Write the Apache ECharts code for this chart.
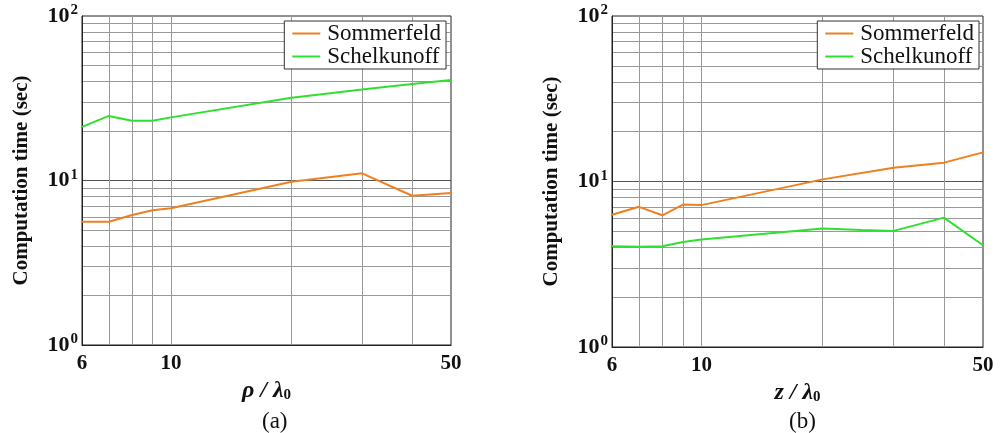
<!DOCTYPE html>
<html>
<head>
<meta charset="utf-8">
<script src="https://cdn.jsdelivr.net/npm/echarts@6/dist/echarts.min.js"></script>
<style>
    html, body { margin: 0; padding: 0; background: #fff; }
    #chart { width: 1007px; height: 433px; }
</style>
</head>
<body>
<div id="chart"></div>
<script>
    // panel (a): rho / lambda0
    const rhoA = [6, 7, 8, 9, 10, 20, 30, 40, 50];
    const sommerfeldA = [5.62, 5.62, 6.17, 6.6, 6.78, 9.84, 11.06, 8.08, 8.4];
    const schelkunoffA = [21.2, 24.7, 23.1, 23.1, 24.2, 31.8, 35.8, 38.6, 40.8];

    // panel (b): z / lambda0
    const zB = [6, 7, 8, 9, 10, 20, 30, 40, 50];
    const sommerfeldB = [6.3, 7.03, 6.25, 7.26, 7.2, 10.3, 12.1, 13.0, 15.0];
    const zB2 = [6, 7, 8, 9, 10, 20, 25, 30, 40, 50];
    const schelkunoffB = [4.06, 4.03, 4.06, 4.31, 4.46, 5.2, 5.1, 5.03, 6.05, 4.12];

    const xLabels = [6, 10, 50];
    const xGridLines = [7, 8, 9, 10, 20, 30, 40];
    const yLabels = [1, 10, 100];
    const yGridLines = [2, 3, 4, 5, 6, 7, 8, 9, 10, 20, 30, 40, 50, 60, 70, 80, 90];

    const serif = 'Liberation Serif, DejaVu Serif, serif';
    const orange = '#ef7f1f';
    const green = '#2fe02f';

    function pairs(xs, ys) {
        return xs.map((x, i) => [x, ys[i]]);
    }

    // y=10 line a bit darker than the rest
    const yGridColors = yGridLines.map(v => v === 10 ? '#555' : '#999');

    function makeX(idx, nameRich) {
        return {
            gridIndex: idx,
            type: 'log',
            logBase: 10,
            min: 6,
            max: 50,
            name: nameRich,
            nameLocation: 'middle',
            nameGap: 33,
            nameTextStyle: {
                rich: {
                    v: { fontFamily: serif, fontStyle: 'italic', fontWeight: 'bold', fontSize: 24, color: '#111' },
                    s: { fontFamily: serif, fontWeight: 'bold', fontSize: 15, color: '#111', padding: [9, 0, 0, 0] }
                }
            },
            axisLine: { show: true, lineStyle: { color: '#222', width: 1 } },
            axisTick: { show: false, customValues: xGridLines },
            axisLabel: {
                customValues: xLabels,
                margin: 8,
                fontFamily: serif,
                fontWeight: 'bold',
                fontSize: 21,
                color: '#111',
                formatter: v => String(Math.round(v))
            },
            splitLine: { show: true, lineStyle: { color: '#999', width: 1 } }
        };
    }

    function makeY(idx) {
        return {
            gridIndex: idx,
            type: 'log',
            logBase: 10,
            min: 1,
            max: 100,
            name: 'Computation time (sec)',
            nameLocation: 'middle',
            nameGap: 50,
            nameTextStyle: { fontFamily: serif, fontWeight: 'bold', fontSize: 21, color: '#111' },
            axisLine: { show: true, lineStyle: { color: '#222', width: 1 } },
            axisTick: { show: false, customValues: yGridLines },
            axisLabel: {
                customValues: yLabels,
                margin: 4,
                formatter: v => '{b|10}{s|' + Math.round(Math.log10(v)) + '}',
                rich: {
                    b: { fontFamily: serif, fontWeight: 'bold', fontSize: 22, color: '#111' },
                    s: { fontFamily: serif, fontWeight: 'bold', fontSize: 15, color: '#111', padding: [0, 0, 11, 1] }
                }
            },
            splitLine: { show: true, lineStyle: { color: yGridColors, width: 1 } }
        };
    }

    function makeLegend(right) {
        return {
            data: ['Sommerfeld', 'Schelkunoff'],
            orient: 'vertical',
            right: right,
            top: 21,
            icon: 'rect',
            itemWidth: 28,
            itemHeight: 2,
            itemGap: 0,
            padding: [1, 5, 1, 8],
            borderColor: '#333',
            borderWidth: 1,
            borderRadius: 0,
            backgroundColor: '#fff',
            textStyle: { fontFamily: serif, fontSize: 23, color: '#111', padding: [0, 0, 0, 2] }
        };
    }

    function lineSeries(name, color, xIdx, xs, ys) {
        return {
            name: name,
            type: 'line',
            xAxisIndex: xIdx,
            yAxisIndex: xIdx,
            symbol: 'none',
            color: color,
            lineStyle: { color: color, width: 2 },
            z: 5,
            data: pairs(xs, ys)
        };
    }

    const chart = echarts.init(document.getElementById('chart'), null, { renderer: 'canvas' });
    chart.setOption({
        backgroundColor: '#fff',
        animation: false,
        title: [
            { text: '(a)', left: 257, top: 405, textStyle: { fontFamily: serif, fontWeight: 'normal', fontSize: 23, color: '#111' } },
            { text: '(b)', left: 784, top: 405, textStyle: { fontFamily: serif, fontWeight: 'normal', fontSize: 23, color: '#111' } }
        ],
        legend: [makeLegend(561), makeLegend(28)],
        grid: [
            { left: 82, top: 16, width: 369, height: 329, show: true, borderColor: '#222', borderWidth: 1, backgroundColor: '#fff' },
            { left: 612, top: 16, width: 371, height: 331, show: true, borderColor: '#222', borderWidth: 1, backgroundColor: '#fff' }
        ],
        xAxis: [
            makeX(0, '{v|ρ / λ}{s|0}'),
            makeX(1, '{v|z / λ}{s|0}')
        ],
        yAxis: [makeY(0), makeY(1)],
        series: [
            lineSeries('Sommerfeld', orange, 0, rhoA, sommerfeldA),
            lineSeries('Schelkunoff', green, 0, rhoA, schelkunoffA),
            lineSeries('Sommerfeld', orange, 1, zB, sommerfeldB),
            lineSeries('Schelkunoff', green, 1, zB2, schelkunoffB)
        ]
    });
</script>
</body>
</html>
